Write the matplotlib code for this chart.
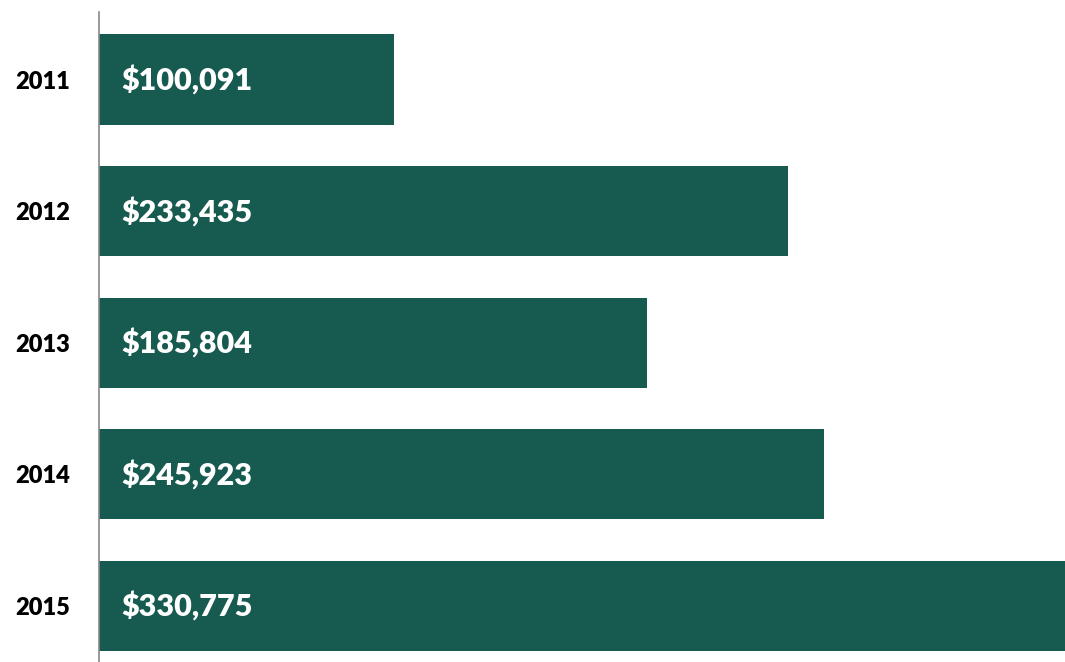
import matplotlib.pyplot as plt

# Data
years = ['2011', '2012', '2013', '2014', '2015']
amounts = [100091, 233435, 185804, 245923, 330775]
labels = ['$100,091', '$233,435', '$185,804', '$245,923', '$330,775']

bar_color = '#175B50'

fig = plt.figure(figsize=(10.65, 6.62), dpi=100)
ax = fig.add_axes([99 / 1065, 0, 1 - 99 / 1065, 650 / 662])

pos = list(range(len(years)))
ax.barh(pos, amounts, height=0.685, color=bar_color, left=0)

for p, lab in zip(pos, labels):
    ax.text(7500, p, lab, ha='left', va='center', color='white',
            fontsize=22, fontweight='heavy', family=['Lato', 'DejaVu Sans'])

ax.set_xlim(0, 327500)
ax.set_ylim(4.426, -0.513)

ax.set_yticks(pos)
ax.set_yticklabels(years, fontsize=17, fontweight='heavy', family=['Lato', 'DejaVu Sans'])
ax.tick_params(axis='y', length=0, pad=21)
ax.set_xticks([])

for s in ['top', 'right', 'bottom']:
    ax.spines[s].set_visible(False)
ax.spines['left'].set_color('#888888')
ax.spines['left'].set_linewidth(1.2)

fig.savefig('out.png', dpi=100)
